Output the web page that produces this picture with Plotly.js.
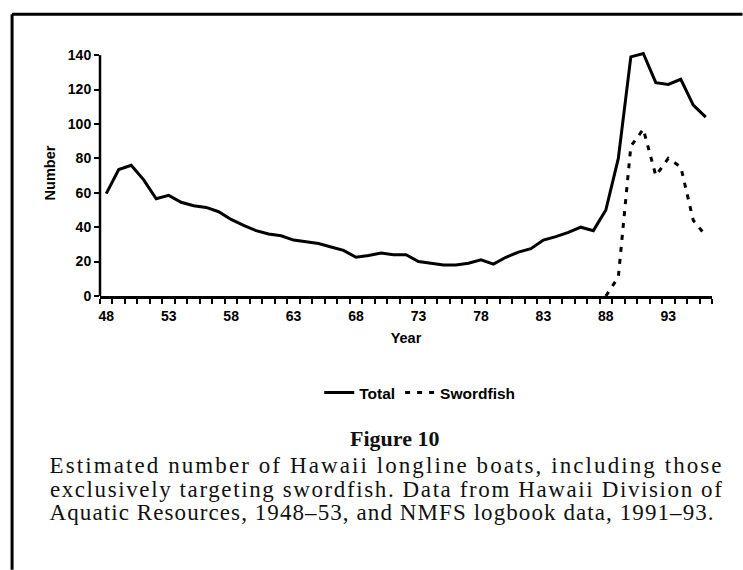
<!DOCTYPE html>
<html>
<head>
<meta charset="utf-8">
<script src="https://cdn.plot.ly/plotly-3.0.1.min.js"></script>
<style>
  html, body { margin: 0; padding: 0; background: #fff; }
  #plot { width: 743px; height: 570px; }
</style>
</head>
<body>
<div id="plot"></div>
<script>
// Years are shown as two digits (1948-1996)
const years = [48, 49, 50, 51, 52, 53, 54, 55, 56, 57, 58, 59, 60, 61, 62, 63, 64,
  65, 66, 67, 68, 69, 70, 71, 72, 73, 74, 75, 76, 77, 78, 79, 80, 81, 82, 83, 84,
  85, 86, 87, 88, 89, 90, 91, 92, 93, 94, 95, 96];

const totalBoats = [59.5, 73.5, 76, 67.5, 56.5, 58.5, 54.5, 52.5, 51.5, 49, 44.5,
  41, 38, 36, 35, 32.5, 31.5, 30.5, 28.5, 26.5, 22.5, 23.5, 25, 24, 24, 20, 19,
  18, 18, 19, 21, 18.5, 22.5, 25.5, 27.5, 32.5, 34.5, 37, 40, 38, 50, 80, 139,
  141, 124, 123, 126, 111, 104];

const swordYears = [88, 89, 90, 91, 92, 93, 94, 95, 96];
const swordfishBoats = [0, 11, 87, 97, 70, 80, 75, 44, 35];

const tickYears = [48, 53, 58, 63, 68, 73, 78, 83, 88, 93];
const yTicks = [0, 20, 40, 60, 80, 100, 120, 140];

const captionTitle = "Figure 10";
const captionLines = [
  "Estimated number of Hawaii longline boats, including those",
  "exclusively targeting swordfish. Data from Hawaii Division of",
  "Aquatic Resources, 1948–53, and NMFS logbook data, 1991–93."
];
// widths (px) the caption lines are set to; the first two are justified
const captionWidths = [672, 672, 664];

const W = 743, H = 570;
// y range goes a little past 140 so the 1991 peak is not clipped
const yMax = 143;
const M = { l: 100, r: 30.5, t: 55 - (yMax - 140) * 241 / 140, b: 274 };

// pixel -> paper helpers for things placed outside the plot area
const px = (x) => (x - M.l) / (W - M.l - M.r);
const py = (y) => (H - M.b - y) / (H - M.t - M.b);

const tickFont = { family: "Liberation Sans, Arial, sans-serif", size: 14, color: "#000", weight: "bold" };
const titleFont = { family: "Liberation Sans, Arial, sans-serif", size: 14.5, color: "#000", weight: "bold" };
const legendFont = { family: "Liberation Sans, Arial, sans-serif", size: 15.5, color: "#000", weight: "bold" };
const captionFont = { family: "Liberation Serif, Times New Roman, serif", size: 23, color: "#111" };

const traces = [
  {
    x: years,
    y: totalBoats,
    name: "Total",
    type: "scatter",
    mode: "lines",
    line: { color: "#000", width: 3 },
  },
  {
    x: swordYears,
    y: swordfishBoats,
    name: "Swordfish",
    type: "scatter",
    mode: "lines",
    line: { color: "#000", width: 3, dash: "5px,7px" },
  },
];

const annotations = [
  {
    text: "<b>" + captionTitle + "</b>",
    xref: "paper", yref: "paper",
    x: px(395), y: py(439),
    xanchor: "center", yanchor: "middle",
    showarrow: false,
    font: { ...captionFont, size: 22 },
  },
];
captionLines.forEach((t, i) => {
  annotations.push({
    text: t,
    xref: "paper", yref: "paper",
    x: px(50 + captionWidths[i] / 2), y: py(466 + i * 23.5),
    xanchor: "center", yanchor: "middle",
    showarrow: false,
    font: captionFont,
  });
});

// frame around the figure: top and left edges are visible
const shapes = [
  { type: "line", xref: "paper", yref: "paper", x0: px(12), x1: px(743), y0: py(14), y1: py(14), line: { color: "#000", width: 3 } },
  { type: "line", xref: "paper", yref: "paper", x0: px(12), x1: px(12), y0: py(14), y1: py(570), line: { color: "#000", width: 3 } },
  // y axis line stops at the 140 tick
  { type: "line", xref: "paper", yref: "y", x0: 0, x1: 0, y0: 0, y1: 140, line: { color: "#000", width: 2.5 } },
];

const layout = {
  width: W,
  height: H,
  margin: M,
  paper_bgcolor: "#fff",
  plot_bgcolor: "#fff",
  showlegend: true,
  legend: {
    orientation: "h",
    x: px(420), xanchor: "center",
    y: py(393), yanchor: "middle",
    font: legendFont,
    itemwidth: 30,
  },
  xaxis: {
    range: [47.5, 96.5],
    tickvals: tickYears,
    ticktext: tickYears.map(String),
    ticks: "",
    // ticks sit between the years, labels under the years
    minor: { tick0: 47.5, dtick: 1, ticks: "outside", ticklen: 5, tickwidth: 2, tickcolor: "#000", showgrid: false },
    showline: true,
    linecolor: "#000",
    linewidth: 2.5,
    showgrid: false,
    zeroline: false,
    tickfont: tickFont,
    ticklabelstandoff: 6,
    title: { text: "Year", font: titleFont, standoff: 10 },
    fixedrange: true,
  },
  yaxis: {
    range: [0, yMax],
    tickvals: yTicks,
    ticks: "outside",
    ticklen: 5,
    tickwidth: 2,
    tickcolor: "#000",
    showline: false,
    showgrid: false,
    zeroline: false,
    tickfont: tickFont,
    title: { text: "Number", font: titleFont, standoff: 8 },
    fixedrange: true,
  },
  annotations: annotations,
  shapes: shapes,
};

Plotly.newPlot("plot", traces, layout, { displayModeBar: false, staticPlot: true }).then((gd) => {
  // stretch caption lines to the measured widths (justified text)
  const texts = gd.querySelectorAll(".annotation-text");
  captionLines.forEach((t, i) => {
    const el = texts[i + 1];
    if (!el) return;
    el.setAttribute("textLength", captionWidths[i]);
    el.setAttribute("lengthAdjust", "spacing");
  });
});
</script>
</body>
</html>
